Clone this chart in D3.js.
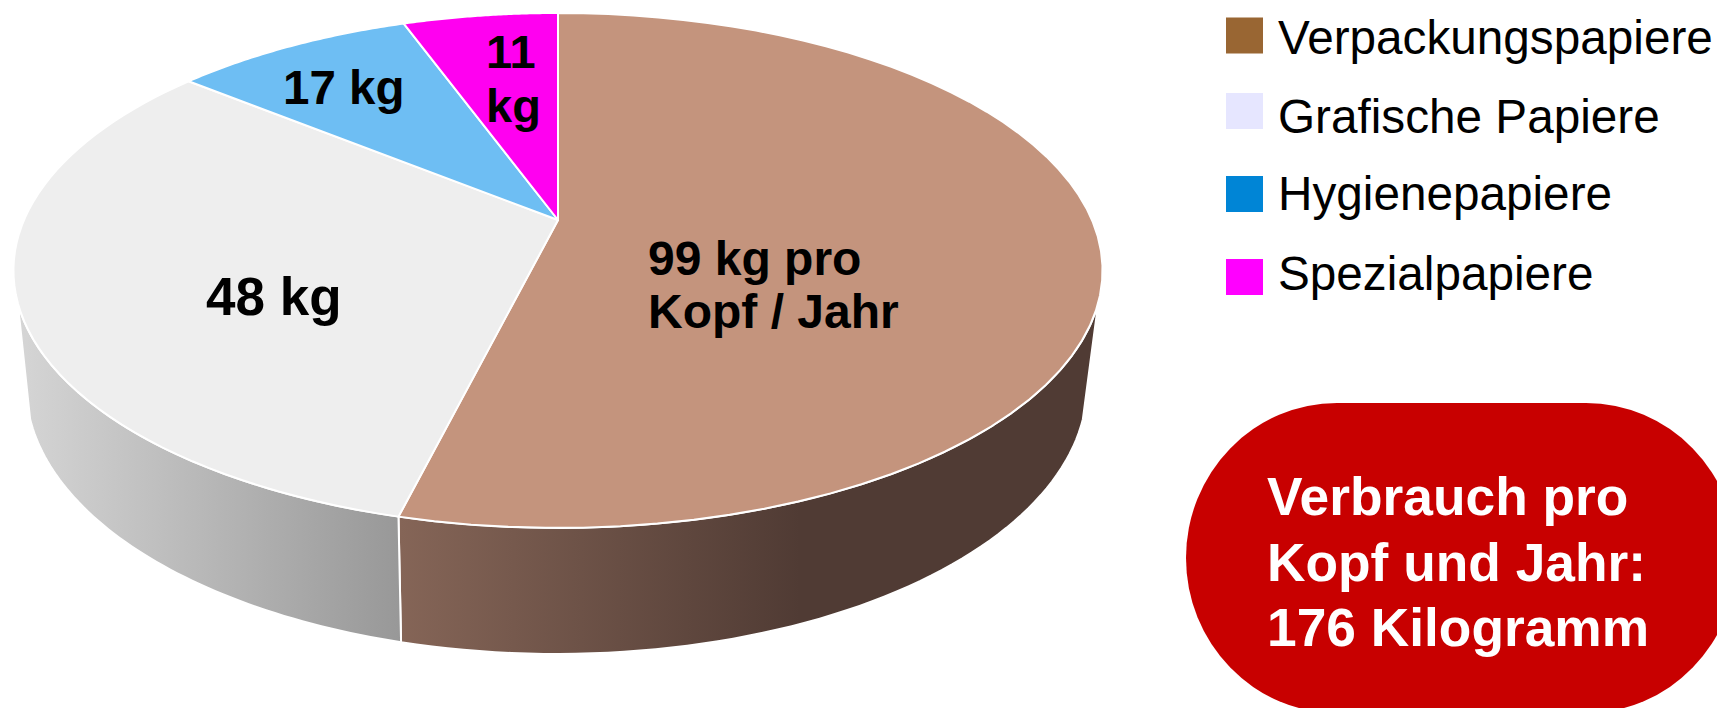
<!DOCTYPE html>
<html>
<head>
<meta charset="utf-8">
<script src="https://cdn.jsdelivr.net/npm/d3@7"></script>
<style>
  body { margin: 0; background: #fff; }
  svg { display: block; }
  text { font-family: "Liberation Sans", Arial, sans-serif; }
</style>
</head>
<body>
<svg id="chart"></svg>
<script>
const categories = ["Verpackungspapiere", "Grafische Papiere", "Hygienepapiere", "Spezialpapiere"];
// Labelled values, these are only what the slice labels say
const kgValues = [99, 48, 17, 11];
// Slice sizes in degrees as measured in the picture. They do not follow
// the kg labels exactly (grey is drawn bigger than 48 kg would be), so the pie uses these.
const drawnDegrees = [194, 115, 31, 20];
const sliceLabelLines = [[`${kgValues[0]} kg pro`, "Kopf / Jahr"], [`${kgValues[1]} kg`], [`${kgValues[2]} kg`], [`${kgValues[3]}`, "kg"]];
const badgeLines = ["Verbrauch pro", "Kopf und Jahr:", "176 Kilogramm"];

const topColors = ["#C4947D", "#EEEEEE", "#6EBEF3", "#FF00F0"];
const legendColors = ["#996633", "#E6E6FF", "#0085D6", "#FF00FF"];

const width = 1717;
const height = 708;

const svg = d3.select("#chart").attr("width", width).attr("height", height);

// Perspective of the disc: maps a point of the unit circle to the screen
const cx = 558;
const apexY = 220;
const radius = 534;
const tilt = -0.196;
const depthY = 204.45;
const project = (angle, r = 1) => {
  const u = r * Math.sin(angle);
  const v = -r * Math.cos(angle);
  const w = 1 + tilt * v;
  return [cx + (radius * u) / w, (apexY + depthY * v) / w];
};

// Bottom rim is the top rim narrower, stretched a bit and moved down
const toBottom = ([x, y]) => [556.5 + ((x - cx) * 531) / 545, 385 + ((y - 270) * 268) / 257];

const pie = d3.pie().sort(null).value((d) => d);
const slices = pie(drawnDegrees);

const line = d3.line();
const rim = (a0, a1) => d3.range(0, 61).map((i) => a0 + ((a1 - a0) * i) / 60);

// Gradients for the side walls
const defs = svg.append("defs");
const wallGradient = (id, x1, x2, from, to) => {
  const g = defs
    .append("linearGradient")
    .attr("id", id)
    .attr("gradientUnits", "userSpaceOnUse")
    .attr("x1", x1)
    .attr("x2", x2)
    .attr("y1", 0)
    .attr("y2", 0);
  g.append("stop").attr("offset", 0).attr("stop-color", from);
  g.append("stop").attr("offset", 1).attr("stop-color", to);
};
wallGradient("wall-brown", 400, 800, "#856557", "#503B34");
wallGradient("wall-grey", 14, 400, "#D6D6D6", "#989898");

// Side walls, only the front part of the rim can be seen
const visibleFrom = (108.3 * Math.PI) / 180;
const visibleTo = (251.7 * Math.PI) / 180;
const walls = [
  { slice: slices[0], fill: "url(#wall-brown)" },
  { slice: slices[1], fill: "url(#wall-grey)" },
];

svg
  .append("g")
  .selectAll("path")
  .data(walls)
  .enter()
  .append("path")
  .attr("d", (d) => {
    const top = rim(Math.max(d.slice.startAngle, visibleFrom), Math.min(d.slice.endAngle, visibleTo)).map((a) => project(a));
    return line(top.concat(top.map(toBottom).reverse())) + "Z";
  })
  .attr("fill", (d) => d.fill)
  .attr("stroke", "#fff")
  .attr("stroke-width", 2)
  .attr("stroke-linejoin", "round");

// Top face
svg
  .append("g")
  .selectAll("path")
  .data(slices)
  .enter()
  .append("path")
  .attr("d", (d) => line([project(0, 0)].concat(rim(d.startAngle, d.endAngle).map((a) => project(a)))) + "Z")
  .attr("fill", (d, i) => topColors[i])
  .attr("stroke", "#fff")
  .attr("stroke-width", 2)
  .attr("stroke-linejoin", "round");

// Slice labels
const labelLayout = [
  { x: 648, y: [275, 328], size: 48 },
  { x: 206, y: [315], size: 53 },
  { x: 283, y: [104], size: 47.5 },
  { x: 486, y: [68, 122], size: 47 },
];

sliceLabelLines.forEach((lines, i) => {
  svg
    .append("g")
    .selectAll("text")
    .data(lines)
    .enter()
    .append("text")
    .attr("x", labelLayout[i].x)
    .attr("y", (d, j) => labelLayout[i].y[j])
    .attr("font-size", labelLayout[i].size)
    .attr("font-weight", "bold")
    .attr("fill", "#000")
    .text((d) => d);
});

// Legend
const legendTop = [17.5, 93, 176, 259];
const legendBaseline = [53.5, 133, 210, 290];

const legend = svg
  .append("g")
  .selectAll("g")
  .data(categories)
  .enter()
  .append("g");

legend
  .append("rect")
  .attr("x", 1226)
  .attr("y", (d, i) => legendTop[i])
  .attr("width", 37)
  .attr("height", 36)
  .attr("fill", (d, i) => legendColors[i]);

legend
  .append("text")
  .attr("x", 1278)
  .attr("y", (d, i) => legendBaseline[i])
  .attr("font-size", 47.7)
  .attr("fill", "#000")
  .text((d) => d);

// Red badge, runs off the page on the right and at the bottom
svg
  .append("rect")
  .attr("x", 1186)
  .attr("y", 403)
  .attr("width", 551)
  .attr("height", 310)
  .attr("rx", 151)
  .attr("ry", 155)
  .attr("fill", "#C80000");

const badgeBaseline = [515, 581, 646];

svg
  .append("g")
  .selectAll("text")
  .data(badgeLines)
  .enter()
  .append("text")
  .attr("x", 1267)
  .attr("y", (d, i) => badgeBaseline[i])
  .attr("font-size", 53.3)
  .attr("font-weight", "bold")
  .attr("fill", "#fff")
  .text((d) => d);
</script>
</body>
</html>
